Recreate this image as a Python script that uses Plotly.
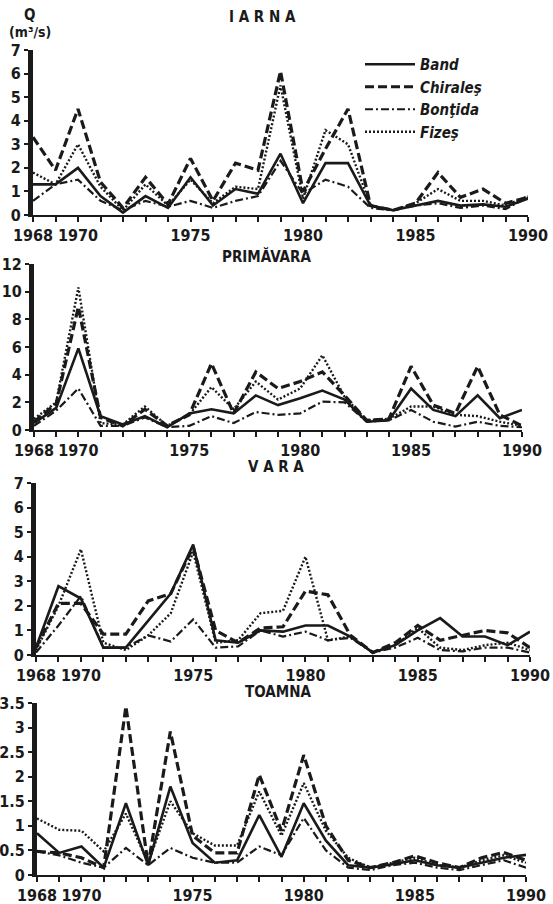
import plotly.graph_objects as go

years = list(range(1968, 1991))

series_names = ["Band", "Chiraleş", "Bonţida", "Fizeş"]

band_iarna = [1.3, 1.3, 2.0, 0.8, 0.1, 0.8, 0.3, 1.6, 0.4, 1.1, 0.9, 2.6, 0.5, 2.2, 2.2, 0.4, 0.2, 0.4, 0.6, 0.4, 0.45, 0.35, 0.7]
chirales_iarna = [3.3, 1.9, 4.5, 1.4, 0.3, 1.6, 0.45, 2.4, 0.6, 2.2, 1.9, 6.1, 1.0, 2.8, 4.5, 0.4, 0.2, 0.5, 1.8, 0.75, 1.1, 0.5, 0.75]
bontida_iarna = [0.6, 1.3, 1.5, 0.6, 0.2, 0.6, 0.35, 0.6, 0.3, 0.6, 0.8, 2.3, 0.9, 1.5, 1.2, 0.3, 0.2, 0.4, 0.5, 0.3, 0.4, 0.25, 0.75]
fizes_iarna = [1.8, 1.3, 3.0, 1.2, 0.2, 1.3, 0.4, 1.5, 0.5, 1.2, 1.1, 5.5, 0.7, 3.6, 3.0, 0.4, 0.2, 0.5, 1.1, 0.6, 0.6, 0.4, 0.8]

band_prim = [0.5, 1.6, 5.9, 1.0, 0.4, 1.0, 0.2, 1.2, 1.5, 1.2, 2.5, 1.8, 2.3, 2.85, 2.2, 0.6, 0.7, 3.0, 1.45, 1.0, 2.5, 0.85, 1.45]
chirales_prim = [0.6, 1.9, 8.9, 0.9, 0.3, 1.5, 0.3, 1.1, 4.8, 1.2, 4.2, 3.0, 3.5, 4.2, 2.5, 0.7, 0.8, 4.6, 1.8, 1.2, 4.6, 1.1, 0.3]
bontida_prim = [0.3, 1.4, 3.0, 0.3, 0.3, 0.9, 0.2, 0.3, 1.0, 0.5, 1.3, 1.1, 1.2, 2.05, 2.0, 0.6, 0.7, 1.45, 0.6, 0.25, 0.6, 0.3, 0.2]
fizes_prim = [0.8, 2.0, 10.3, 0.5, 0.4, 1.7, 0.3, 1.1, 3.1, 1.5, 3.5, 2.2, 3.0, 5.4, 2.4, 0.7, 0.8, 1.7, 1.7, 1.1, 1.0, 0.6, 0.3]

band_vara = [0.3, 2.8, 2.3, 0.3, 0.3, 1.4, 2.5, 4.5, 0.6, 0.5, 1.0, 0.95, 1.2, 1.2, 0.75, 0.1, 0.4, 1.0, 1.5, 0.75, 0.75, 0.4, 0.95]
chirales_vara = [0.3, 2.1, 2.1, 0.85, 0.85, 2.2, 2.5, 4.4, 1.0, 0.5, 1.1, 1.15, 2.6, 2.45, 0.8, 0.1, 0.5, 1.2, 0.6, 0.8, 1.0, 0.9, 0.3]
bontida_vara = [0.1, 1.2, 2.4, 0.3, 0.3, 0.8, 0.55, 1.45, 0.3, 0.35, 1.0, 0.75, 0.95, 0.6, 0.7, 0.1, 0.3, 0.7, 0.2, 0.15, 0.3, 0.3, 0.1]
fizes_vara = [0.2, 2.0, 4.3, 0.5, 0.2, 0.8, 1.7, 4.2, 0.5, 0.6, 1.7, 1.8, 4.0, 0.6, 0.75, 0.1, 0.4, 1.1, 0.3, 0.2, 0.4, 0.5, 0.2]

band_toamna = [0.85, 0.45, 0.58, 0.15, 1.46, 0.2, 1.8, 0.65, 0.25, 0.3, 1.22, 0.37, 1.46, 0.7, 0.2, 0.15, 0.22, 0.3, 0.2, 0.15, 0.25, 0.35, 0.41]
chirales_toamna = [0.48, 0.45, 0.35, 0.15, 3.43, 0.2, 2.92, 0.8, 0.45, 0.45, 2.04, 0.9, 2.44, 1.0, 0.3, 0.15, 0.25, 0.39, 0.25, 0.15, 0.35, 0.46, 0.3]
bontida_toamna = [0.48, 0.4, 0.25, 0.15, 0.55, 0.2, 0.55, 0.35, 0.25, 0.25, 0.58, 0.4, 1.16, 0.5, 0.15, 0.1, 0.2, 0.25, 0.15, 0.1, 0.2, 0.3, 0.15]
fizes_toamna = [1.15, 0.92, 0.9, 0.48, 1.25, 0.25, 1.5, 0.85, 0.6, 0.6, 1.7, 0.8, 1.87, 0.9, 0.35, 0.15, 0.25, 0.35, 0.2, 0.15, 0.3, 0.4, 0.25]

panel_titles = ["I A R N A", "PRIMĂVARA", "V A R A", "TOAMNA"]
year_labels = {1968: "1968", 1970: "1970", 1975: "1975", 1980: "1980", 1985: "1985", 1990: "1990"}

y_ticks_iarna = [0, 1, 2, 3, 4, 5, 6, 7]
y_ticks_prim = [0, 2, 4, 6, 8, 10, 12]
y_ticks_vara = [0, 1, 2, 3, 4, 5, 6, 7]
y_ticks_toamna = [0, 0.5, 1, 1.5, 2, 2.5, 3, 3.5]
y_ticktext_toamna = ["0", "0.5", "1", "1.5", "2", "2.5", "3", "3.5"]

panels = [
    dict(data=[band_iarna, chirales_iarna, bontida_iarna, fizes_iarna], yr=[0, 7], tv=y_ticks_iarna,
         tt=[str(v) for v in y_ticks_iarna]),
    dict(data=[band_prim, chirales_prim, bontida_prim, fizes_prim], yr=[0, 12], tv=y_ticks_prim,
         tt=[str(v) for v in y_ticks_prim]),
    dict(data=[band_vara, chirales_vara, bontida_vara, fizes_vara], yr=[0, 7], tv=y_ticks_vara,
         tt=[str(v) for v in y_ticks_vara]),
    dict(data=[band_toamna, chirales_toamna, bontida_toamna, fizes_toamna], yr=[0, 3.5], tv=y_ticks_toamna,
         tt=y_ticktext_toamna),
]

W, H = 553, 904
# pixel boxes (left, right, top, bottom) for each panel
boxes = [(33, 528, 50, 215), (34, 522, 264, 430), (36, 530, 483, 655), (37, 526, 703, 875)]
title_pos = [(262, 17), (266, 256), (276, 467), (278, 692)]

ink = "#1a1a1a"
styles = [
    dict(width=2.6, dash="solid"),
    dict(width=3.2, dash="9px,4px"),
    dict(width=2.2, dash="8px,3px,2px,3px"),
    dict(width=2.4, dash="2px,2px"),
]

FONT = "DejaVu Sans Condensed, Liberation Sans Narrow, Liberation Sans, sans-serif"

fig = go.Figure()
layout = dict(width=W, height=H, margin=dict(l=0, r=0, t=0, b=0),
              paper_bgcolor="white", plot_bgcolor="white", showlegend=True)

tickvals_x = years
ticktext_x = [year_labels.get(y, "") for y in years]

for i, p in enumerate(panels):
    xa = "x" if i == 0 else f"x{i+1}"
    ya = "y" if i == 0 else f"y{i+1}"
    for j, vals in enumerate(p["data"]):
        fig.add_trace(go.Scatter(
            x=years, y=vals, mode="lines", name=series_names[j],
            xaxis=xa, yaxis=ya, showlegend=(i == 0),
            line=dict(color=ink, width=styles[j]["width"], dash=styles[j]["dash"]),
        ))
    l, r, t, b = boxes[i]
    xkey = "xaxis" if i == 0 else f"xaxis{i+1}"
    ykey = "yaxis" if i == 0 else f"yaxis{i+1}"
    layout[xkey] = dict(domain=[l / W, r / W], range=[1968, 1990], anchor=ya,
                        tickmode="array", tickvals=tickvals_x, ticktext=ticktext_x, tickangle=0,
                        ticks="outside", ticklen=5, tickwidth=1.5, tickcolor=ink,
                        showline=True, linewidth=2, linecolor=ink, showgrid=False, zeroline=False,
                        tickfont=dict(family=FONT, size=16, color=ink, weight="bold"),
                        automargin=False)
    layout[ykey] = dict(domain=[1 - b / H, 1 - t / H], range=p["yr"], anchor=xa,
                        tickmode="array", tickvals=p["tv"], ticktext=p["tt"],
                        ticks="outside", ticklen=4, tickwidth=1.5, tickcolor=ink,
                        showline=True, linewidth=5, linecolor=ink, showgrid=False, zeroline=False,
                        tickfont=dict(family=FONT, size=16, color=ink, weight="bold"),
                        automargin=False)

annotations = []
for i, (tx, ty) in enumerate(title_pos):
    annotations.append(dict(x=tx / W, y=1 - ty / H, xref="paper", yref="paper", text=panel_titles[i],
                            showarrow=False, xanchor="center", yanchor="middle",
                            font=dict(family=FONT, size=15, color=ink, weight="bold")))
annotations.append(dict(x=29 / W, y=1 - 15 / H, xref="paper", yref="paper", text="Q", showarrow=False,
                        xanchor="center", yanchor="middle",
                        font=dict(family=FONT, size=15, color=ink, weight="bold")))
annotations.append(dict(x=30 / W, y=1 - 32 / H, xref="paper", yref="paper", text="(m³/s)", showarrow=False,
                        xanchor="center", yanchor="middle",
                        font=dict(family=FONT, size=14, color=ink, weight="bold")))
layout["annotations"] = annotations
layout["legend"] = dict(x=360 / W, y=1 - 48 / H, xanchor="left", yanchor="top",
                        bgcolor="rgba(0,0,0,0)", tracegroupgap=0, itemwidth=50,
                        font=dict(family=FONT, size=15, color=ink, weight="bold", style="italic"))

fig.update_layout(**layout)
fig.write_html("out.html")
